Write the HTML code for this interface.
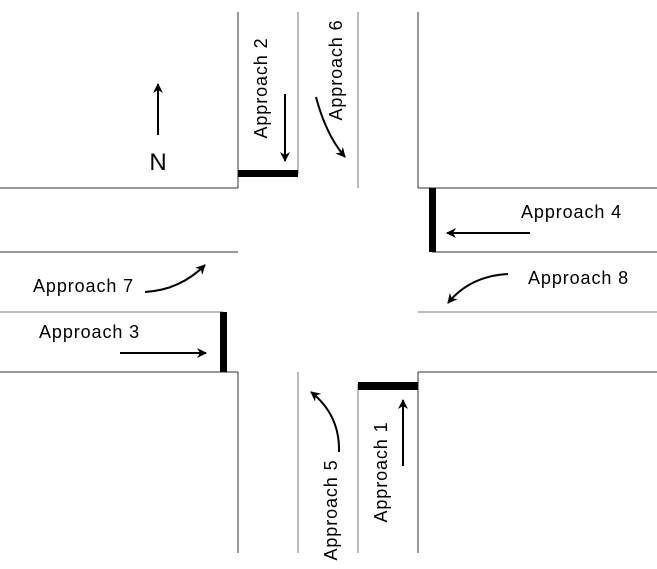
<html><body style="margin:0;background:#fff">
<svg width="657" height="569" xmlns="http://www.w3.org/2000/svg" style="display:block;font-family:'Liberation Sans',sans-serif">
<defs><marker id="a" markerWidth="10" markerHeight="10" refX="9" refY="5" orient="auto" markerUnits="userSpaceOnUse"><path d="M0,0 L10,5 L0,10 L3,5 Z" fill="#000"/></marker></defs>
<g stroke="#333" stroke-width="1" fill="none">
<line x1="238" y1="12" x2="238" y2="188"/><line x1="298" y1="12" x2="298" y2="174" stroke="#777"/><line x1="358" y1="12" x2="358" y2="188" stroke="#777"/><line x1="418" y1="12" x2="418" y2="188"/>
<line x1="238" y1="372" x2="238" y2="553"/><line x1="298" y1="372" x2="298" y2="553" stroke="#777"/><line x1="358" y1="384" x2="358" y2="553" stroke="#777"/><line x1="418" y1="372" x2="418" y2="553"/>
<line x1="0" y1="188" x2="238" y2="188"/><line x1="418" y1="188" x2="657" y2="188"/>
<line x1="0" y1="252" x2="238" y2="252"/><line x1="432" y1="252" x2="657" y2="252"/>
<line x1="0" y1="312" x2="223" y2="312" stroke="#777"/><line x1="418" y1="312" x2="657" y2="312" stroke="#777"/>
<line x1="0" y1="372" x2="238" y2="372"/><line x1="418" y1="372" x2="657" y2="372"/>
</g>
<g fill="#000"><rect x="238" y="170" width="60" height="7"/><rect x="429" y="188" width="7" height="64"/><rect x="220" y="312" width="7" height="60"/><rect x="358" y="382" width="60" height="8"/></g>
<g stroke="#000" stroke-width="2" fill="none" marker-end="url(#a)">
<line x1="158" y1="135" x2="158" y2="84"/>
<line x1="285" y1="94" x2="285" y2="161"/>
<line x1="530" y1="233" x2="447" y2="233"/>
<line x1="120" y1="353" x2="206" y2="353"/>
<line x1="403" y1="466" x2="403" y2="400"/>
<path d="M316,97 Q326,135 345,157"/>
<path d="M145,292 Q180,290 205,265"/>
<path d="M508,274 Q470,276 448,303"/>
<path d="M339,452 Q340,415 311,392"/>
</g>
<g font-size="18" fill="#000" letter-spacing="0.9">
<text x="158" y="170" font-size="24" letter-spacing="0" text-anchor="middle">N</text>
<text transform="translate(267,88) rotate(-90)" text-anchor="middle">Approach 2</text>
<text transform="translate(342,70) rotate(-90)" text-anchor="middle">Approach 6</text>
<text x="521" y="218">Approach 4</text>
<text x="33" y="292">Approach 7</text>
<text x="39" y="338">Approach 3</text>
<text x="528" y="284">Approach 8</text>
<text transform="translate(337,510) rotate(-90)" text-anchor="middle">Approach 5</text>
<text transform="translate(387,472) rotate(-90)" text-anchor="middle">Approach 1</text>
</g>
</svg>
</body></html>
